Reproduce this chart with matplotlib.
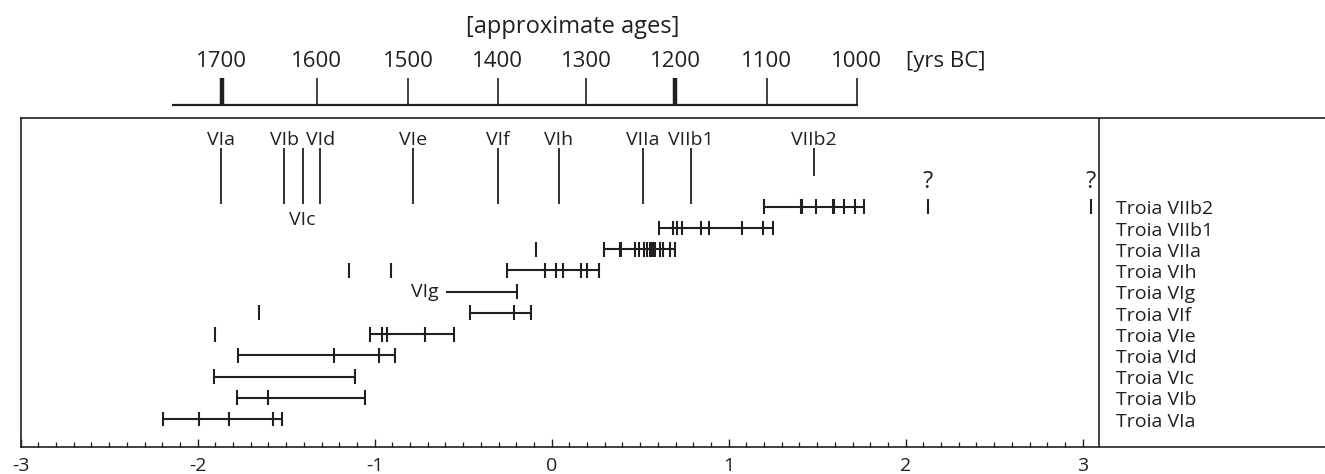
import matplotlib
matplotlib.use('Agg')
import matplotlib.pyplot as plt

plt.rcParams['font.family'] = ['Open Sans', 'DejaVu Sans']
plt.rcParams['axes.unicode_minus'] = False

ink = '#231f20'

# approximate ages (yrs BC) and where they fall on the lower scale
ages = [1700, 1600, 1500, 1400, 1300, 1200, 1100, 1000]
age_pos = [-1.864, -1.328, -0.812, -0.304, 0.194, 0.699, 1.216, 1.723]
age_bold = [1700, 1200]

# phase boundaries marked at the top of the panel
phases = ['VIa', 'VIb', 'VIc', 'VId', 'VIe', 'VIf', 'VIh', 'VIIa', 'VIIb1', 'VIIb2']
phase_pos = [-1.869, -1.512, -1.407, -1.307, -0.785, -0.302, 0.040, 0.514, 0.785, 1.482]

layers = ['Troia VIa', 'Troia VIb', 'Troia VIc', 'Troia VId', 'Troia VIe', 'Troia VIf',
          'Troia VIg', 'Troia VIh', 'Troia VIIa', 'Troia VIIb1', 'Troia VIIb2']

# dated samples per layer (joined by a line)
via = [-2.198, -1.993, -1.822, -1.575, -1.525]
vib = [-1.776, -1.601, -1.055]
vic = [-1.908, -1.113]
vid = [-1.772, -1.230, -0.977, -0.885]
vie = [-1.025, -0.959, -0.930, -0.714, -0.550]
vif = [-0.462, -0.211, -0.119]
vig = [-0.599, -0.198]
vih = [-0.254, -0.038, 0.024, 0.066, 0.166, 0.201, 0.266]
viia = [0.297, 0.385, 0.392, 0.471, 0.491, 0.521, 0.537, 0.555, 0.567, 0.575, 0.580,
        0.586, 0.610, 0.630, 0.668, 0.698]
viib1 = [0.607, 0.684, 0.706, 0.737, 0.844, 0.890, 1.077, 1.194, 1.252]
viib2 = [1.199, 1.408, 1.416, 1.493, 1.588, 1.597, 1.651, 1.714, 1.766]
layer_dates = [via, vib, vic, vid, vie, vif, vig, vih, viia, viib1, viib2]

# isolated samples
single_x = [-1.901, -1.653, -1.145, -0.910, -0.090, 2.124, 3.045]
single_layer = [4, 5, 7, 7, 8, 10, 10]
uncertain_x = [2.124, 3.045]

fig = plt.figure(figsize=(13.25, 4.74), dpi=100)
W, H = 1325, 474
x0 = 20.7 / W
xmin, xmax = -3, 4.369

# ---- main panel
ax = fig.add_axes([x0, 27 / H, 1 - x0, (447 - 118) / H])
ax.set_xlim(xmin, xmax)
ax.set_ylim(-1.319, 14.18)
ax.spines['right'].set_visible(False)
for s in ['left', 'top', 'bottom']:
    ax.spines[s].set_color(ink)
    ax.spines[s].set_linewidth(1.2)
ax.set_yticks([])
ax.set_xticks(range(-3, 4))
ax.set_xticks([i / 10 for i in range(-30, 31)], minor=True)
ax.tick_params(axis='x', which='major', direction='in', length=6, width=1.0,
               color=ink, labelsize=14, labelcolor=ink, pad=7)
ax.tick_params(axis='x', which='minor', direction='in', length=3.5, width=0.9, color=ink)

h = 0.35
for row, dates in enumerate(layer_dates):
    ax.plot([min(dates), max(dates)], [row, row], color=ink, lw=1.5, solid_capstyle='butt')
    ticks = dates[1:] if row == 6 else dates
    ax.vlines(ticks, row - h, row + h, color=ink, lw=1.5)
ax.text(min(vig) - 0.04, 6, 'VIg', ha='right', va='center', fontsize=14, color=ink)

ax.vlines(single_x, [r - h for r in single_layer], [r + h for r in single_layer],
          color=ink, lw=1.5)
for x in uncertain_x:
    ax.text(x, 10.87, '?', ha='center', va='baseline', fontsize=17, color=ink)

for name, x in zip(phases, phase_pos):
    bottom = 11.46 if name == 'VIIb2' else 10.13
    ax.vlines(x, bottom, 12.76, color=ink, lw=1.3)
    if name == 'VIc':
        ax.text(x, 9.14, name, ha='center', va='baseline', fontsize=14, color=ink)
    else:
        ax.text(x, 12.9, name, ha='center', va='baseline', fontsize=14, color=ink)

ax.axvline(3.09, color=ink, lw=1.2)
for row, name in enumerate(layers):
    ax.text(3.188, row - 0.36, name, ha='left', va='baseline', fontsize=14, color=ink)

# ---- age scale on top (pixel y coordinates)
top = fig.add_axes([x0, (H - 114) / H, 1 - x0, 114 / H])
top.set_xlim(xmin, xmax)
top.set_ylim(114, 0)
top.axis('off')
top.plot([-2.147, 1.732], [105, 105], color=ink, lw=1.6, solid_capstyle='butt')
for age, x in zip(ages, age_pos):
    top.vlines(x, 78, 105, color=ink, lw=3.2 if age in age_bold else 1.2)
    top.text(x, 66.7, str(age), ha='center', va='baseline', fontsize=16, color=ink)
top.text(0.12, 33, '[approximate ages]', ha='center', va='baseline', fontsize=17, color=ink)
top.text(2.0, 66.7, '[yrs BC]', ha='left', va='baseline', fontsize=16, color=ink)

fig.savefig('out.png', dpi=100)
